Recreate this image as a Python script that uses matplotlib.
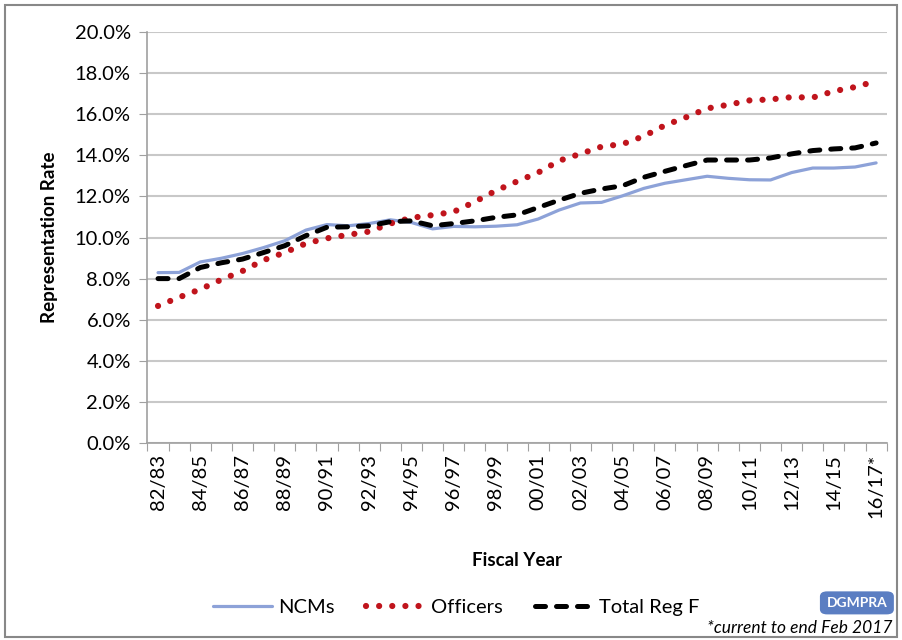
import matplotlib
matplotlib.use("Agg")
import matplotlib.pyplot as plt
from matplotlib.patches import FancyBboxPatch, Rectangle
from matplotlib.ticker import FuncFormatter, FixedLocator, NullFormatter

plt.rcParams['font.family'] = ['Lato', 'DejaVu Sans']

# fiscal years 82/83 .. 16/17*
years = [f"{(82 + i) % 100:02d}/{(83 + i) % 100:02d}" for i in range(35)]
years[-1] = years[-1] + "*"

ncms = [8.29, 8.30, 8.81, 8.99, 9.22, 9.51, 9.84, 10.36, 10.63, 10.57,
        10.68, 10.86, 10.73, 10.42, 10.54, 10.52, 10.55, 10.62, 10.90, 11.34,
        11.68, 11.71, 12.03, 12.39, 12.64, 12.81, 12.98, 12.88, 12.81, 12.80,
        13.16, 13.38, 13.38, 13.43, 13.63]
officers = [6.67, 7.09, 7.48, 7.95, 8.37, 8.90, 9.27, 9.71, 9.96, 10.13,
            10.29, 10.68, 10.96, 11.09, 11.25, 11.74, 12.28, 12.73, 13.16, 13.74,
            14.07, 14.42, 14.55, 14.93, 15.46, 15.85, 16.28, 16.46, 16.67, 16.72,
            16.83, 16.81, 17.12, 17.32, 17.61]
total = [8.00, 8.00, 8.54, 8.77, 8.95, 9.27, 9.60, 10.09, 10.50, 10.52,
         10.57, 10.77, 10.81, 10.57, 10.68, 10.81, 10.98, 11.10, 11.46, 11.82,
         12.15, 12.36, 12.52, 12.93, 13.22, 13.50, 13.77, 13.77, 13.77, 13.87,
         14.07, 14.23, 14.31, 14.36, 14.60]

fig = plt.figure(figsize=(9.02, 6.40), dpi=100)
ax = fig.add_axes([0.1635, 0.3078, 0.8195, 0.6422])

x = list(range(len(years)))
l1, = ax.plot(x, ncms, color='#8da2d8', lw=2.3, solid_capstyle='round', label='NCMs')
l2, = ax.plot(x, officers, color='#c0141c', lw=4.5, linestyle=(0, (0.001, 2.1)),
              dash_capstyle='round', label='Officers')
l3, = ax.plot(x, total, color='black', lw=3.6, linestyle=(0, (2.0, 2.2)),
              dash_capstyle='round', label='Total Reg F')

ax.set_xlim(-0.5, len(years) - 0.5)
ax.set_ylim(0, 20)
ax.set_yticks(range(0, 21, 2))
ax.yaxis.set_major_formatter(FuncFormatter(lambda v, p: f"{v:.1f}%"))
ax.grid(axis='y', color='#c8c8c8', lw=1.5)
ax.set_axisbelow(True)

# ticks between categories, labels on every other category
ax.xaxis.set_major_locator(FixedLocator([i - 0.5 for i in range(len(years) + 1)]))
ax.xaxis.set_major_formatter(NullFormatter())
ax.set_xticks(x[::2], years[::2], minor=True, rotation=90)
ax.tick_params(axis='x', which='major', length=6, color='#a0a0a0', direction='out')
ax.tick_params(axis='x', which='minor', length=0, labelsize=14.5, pad=8)
ax.tick_params(axis='y', length=6, color='#a0a0a0', labelsize=14.5, pad=6)

for s in ['top', 'right']:
    ax.spines[s].set_visible(False)
for s in ['left', 'bottom']:
    ax.spines[s].set_color('#a0a0a0')
    ax.spines[s].set_linewidth(1.2)

ax.set_ylabel('Representation Rate', fontsize=13.5, fontweight='bold', labelpad=12)
ax.set_xlabel('Fiscal Year', fontsize=13.5, fontweight='bold', labelpad=24)

fig.legend(handles=[l1, l2, l3], loc='center', bbox_to_anchor=(0.506, 0.051),
           ncol=3, frameon=False, fontsize=14.5, handlelength=2.9, columnspacing=1.6,
           handletextpad=0.3)

# badge and footnote
badge = FancyBboxPatch((0.913, 0.044), 0.074, 0.028, boxstyle='round,pad=0.004,rounding_size=0.008',
                       transform=fig.transFigure, facecolor='#5b7ec2', edgecolor='none')
fig.patches.append(badge)
fig.text(0.95, 0.058, 'DGMPRA', color='white', fontsize=10, fontweight='bold',
         ha='center', va='center')
fig.text(0.99, 0.018, '*current to end Feb 2017', fontsize=12.5, style='italic',
         ha='right', va='center')

frame = Rectangle((0.006, 0.004), 0.988, 0.988, transform=fig.transFigure,
                  fill=False, edgecolor='#888888', lw=1.5)
fig.patches.append(frame)

fig.savefig('out.png', dpi=100, facecolor='white')
